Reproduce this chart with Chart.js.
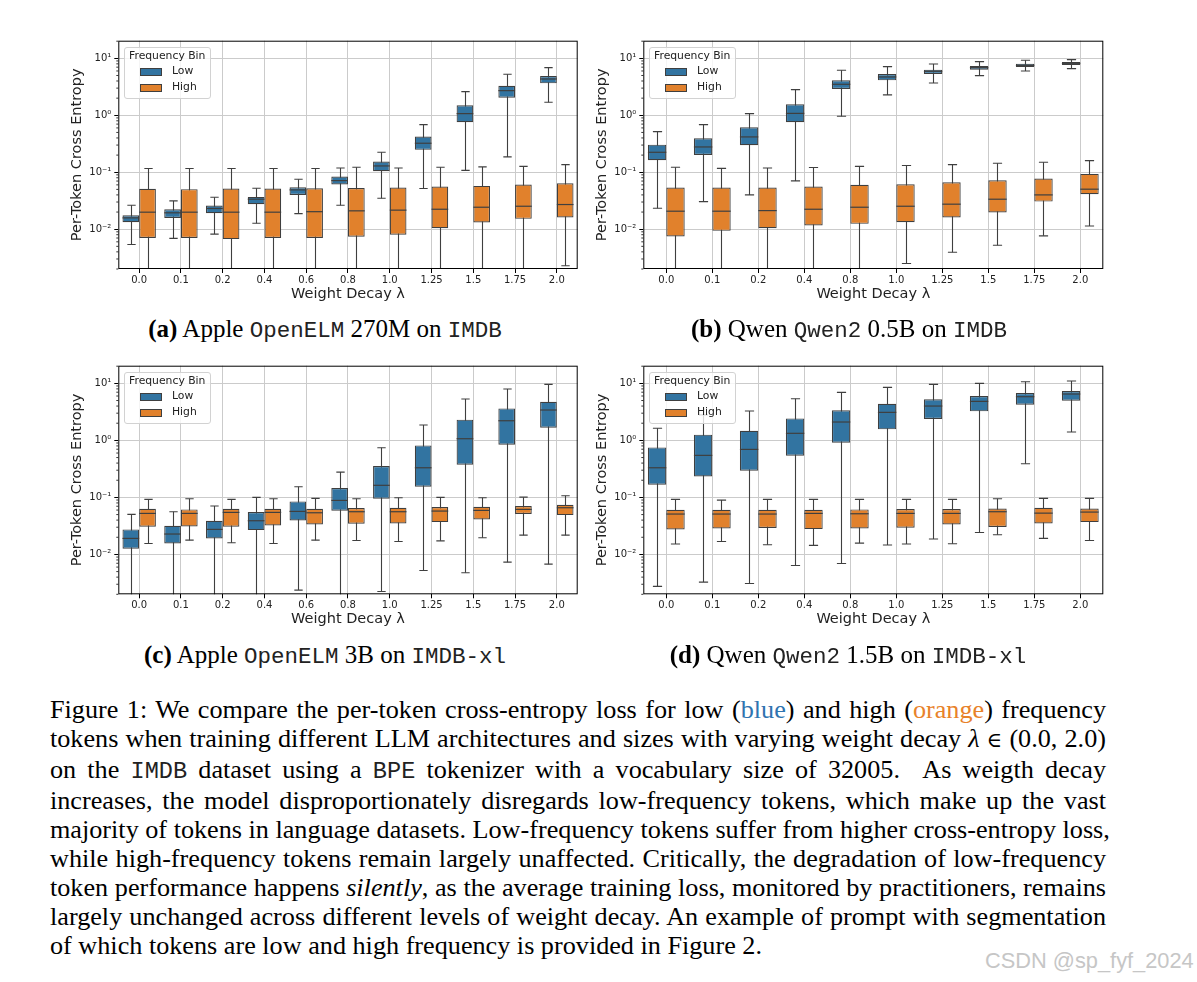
<!DOCTYPE html>
<html>
<head>
<meta charset="utf-8">
<script src="https://cdn.jsdelivr.net/npm/chart.js@4.4.1/dist/chart.umd.min.js"></script>
<style>
  body { margin: 0; background: #fff; width: 1197px; height: 982px; position: relative; overflow: hidden; font-family: "Liberation Serif", serif; color: #000; }
  canvas { position: absolute; }
  .legend { position: absolute; width: 87px; height: 52px; border: 1px solid #d2d2d2; border-radius: 3px; background: rgba(255,255,255,0.8); font-family: "DejaVu Sans", sans-serif; font-size: 10.8px; color: #222; box-sizing: border-box; }
  .legend .t { position: absolute; left: 4px; top: 1px; }
  .legend .p { position: absolute; left: 15px; width: 22px; height: 8px; border: 1px solid #3f3f3f; box-sizing: border-box; }
  .legend .l { position: absolute; left: 47px; }
  .cap { position: absolute; width: 500px; text-align: center; font-size: 25px; line-height: 28px; white-space: nowrap; }
  .tt { font-family: "Liberation Mono", monospace; font-size: 0.9em; color: #222; }
  .para { position: absolute; left: 50px; width: 1056px; font-size: 26.2px; line-height: 29px; }
  .para div { white-space: nowrap; text-align: justify; text-align-last: justify; }
  .para div.last { text-align-last: left; }
  .elem { font-family: "DejaVu Serif", serif; font-size: 0.8em; }
  .wm { position: absolute; left: 985px; top: 948px; font-family: "Liberation Sans", sans-serif; font-size: 21.8px; color: #c6c6c6; }
</style>
</head>
<body>
<canvas id="cA" width="530" height="275" style="left:60px;top:30px"></canvas>
<canvas id="cB" width="530" height="275" style="left:585px;top:30px"></canvas>
<canvas id="cC" width="530" height="275" style="left:60px;top:355px"></canvas>
<canvas id="cD" width="530" height="275" style="left:585px;top:355px"></canvas>

<div class="legend" style="left:124px;top:47px"><span class="t">Frequency Bin</span><div class="p" style="top:20px;background:#3274a1"></div><span class="l" style="top:16px">Low</span><div class="p" style="top:36px;background:#e1812c"></div><span class="l" style="top:32px">High</span></div>
<div class="legend" style="left:649px;top:47px"><span class="t">Frequency Bin</span><div class="p" style="top:20px;background:#3274a1"></div><span class="l" style="top:16px">Low</span><div class="p" style="top:36px;background:#e1812c"></div><span class="l" style="top:32px">High</span></div>
<div class="legend" style="left:124px;top:372px"><span class="t">Frequency Bin</span><div class="p" style="top:20px;background:#3274a1"></div><span class="l" style="top:16px">Low</span><div class="p" style="top:36px;background:#e1812c"></div><span class="l" style="top:32px">High</span></div>
<div class="legend" style="left:649px;top:372px"><span class="t">Frequency Bin</span><div class="p" style="top:20px;background:#3274a1"></div><span class="l" style="top:16px">Low</span><div class="p" style="top:36px;background:#e1812c"></div><span class="l" style="top:32px">High</span></div>

<div class="cap" style="left:75px;top:315px"><b>(a)</b> Apple <span class="tt">OpenELM</span> 270M on <span class="tt">IMDB</span></div>
<div class="cap" style="left:599px;top:315px"><b>(b)</b> Qwen <span class="tt">Qwen2</span> 0.5B on <span class="tt">IMDB</span></div>
<div class="cap" style="left:75px;top:641px"><b>(c)</b> Apple <span class="tt">OpenELM</span> 3B on <span class="tt">IMDB-xl</span></div>
<div class="cap" style="left:598px;top:641px"><b>(d)</b> Qwen <span class="tt">Qwen2</span> 1.5B on <span class="tt">IMDB-xl</span></div>

<div class="para" style="top:695px">
  <div>Figure 1: We compare the per-token cross-entropy loss for low (<span style="color:#2f74b0">blue</span>) and high (<span style="color:#e8822a">orange</span>) frequency</div>
  <div>tokens when training different LLM architectures and sizes with varying weight decay <i>λ</i> <span class="elem">∈</span> (0.0, 2.0)</div>
  <div>on the <span class="tt">IMDB</span> dataset using a <span class="tt">BPE</span> tokenizer with a vocabulary size of 32005. &nbsp;As weigth decay</div>
  <div>increases, the model disproportionately disregards low-frequency tokens, which make up the vast</div>
  <div>majority of tokens in language datasets. Low-frequency tokens suffer from higher cross-entropy loss,</div>
  <div>while high-frequency tokens remain largely unaffected. Critically, the degradation of low-frequency</div>
  <div>token performance happens <i>silently</i>, as the average training loss, monitored by practitioners, remains</div>
  <div>largely unchanged across different levels of weight decay. An example of prompt with segmentation</div>
  <div class="last">of which tokens are low and high frequency is provided in Figure 2.</div>
</div>
<div class="wm">CSDN @sp_fyf_2024</div>

<script>
// weight decay categories
const decay11 = ['0.0', '0.1', '0.2', '0.4', '0.6', '0.8', '1.0', '1.25', '1.5', '1.75', '2.0'];
const decay10 = ['0.0', '0.1', '0.2', '0.4', '0.8', '1.0', '1.25', '1.5', '1.75', '2.0'];
const decadeTicks = [0.01, 0.1, 1, 10];
const decadeLabels = ['10⁻²', '10⁻¹', '10⁰', '10¹'];

// each entry: [whisker low, Q1, median, Q3, whisker high]
const openElm270Low = [
  [0.0054, 0.0133, 0.0158, 0.0176, 0.0264], [0.0069, 0.0158, 0.0194, 0.0224, 0.0314],
  [0.0082, 0.0191, 0.0231, 0.026, 0.0364], [0.0127, 0.0275, 0.0336, 0.0369, 0.0524],
  [0.0188, 0.040, 0.049, 0.0546, 0.0753], [0.0264, 0.0608, 0.0714, 0.084, 0.119],
  [0.035, 0.104, 0.129, 0.154, 0.224], [0.0517, 0.247, 0.323, 0.423, 0.686],
  [0.108, 0.753, 1.07, 1.5, 2.6], [0.186, 2.04, 2.71, 3.31, 5.24], [1.69, 3.64, 4.34, 4.9, 6.86]
];
const openElm270High = [
  [0.001, 0.0070, 0.0199, 0.0511, 0.116], [0.001, 0.0070, 0.0199, 0.0505, 0.116],
  [0.001, 0.0067, 0.0199, 0.0518, 0.116], [0.001, 0.0070, 0.0199, 0.0518, 0.116],
  [0.001, 0.0070, 0.0203, 0.0525, 0.116], [0.001, 0.0074, 0.021, 0.053, 0.122],
  [0.001, 0.0080, 0.0216, 0.0538, 0.119], [0.001, 0.0104, 0.0224, 0.0561, 0.122],
  [0.001, 0.0131, 0.0243, 0.0576, 0.124], [0.001, 0.0152, 0.0253, 0.0608, 0.127],
  [0.00228, 0.016, 0.0271, 0.0641, 0.136]
];
const qwen05Low = [
  [0.0233, 0.163, 0.224, 0.305, 0.516], [0.0305, 0.201, 0.278, 0.394, 0.686],
  [0.040, 0.298, 0.417, 0.615, 1.07], [0.0705, 0.753, 1.08, 1.56, 2.82],
  [0.96, 2.9, 3.5, 4.11, 6.16], [2.28, 4.11, 4.71, 5.31, 7.14],
  [3.69, 5.31, 5.92, 6.33, 7.96], [4.97, 6.33, 6.86, 7.33, 8.75],
  [6.0, 7.05, 7.53, 8.06, 9.23], [6.59, 7.64, 8.17, 8.62, 9.48]
];
const qwen05High = [
  [0.001, 0.00743, 0.0207, 0.0538, 0.122], [0.001, 0.00935, 0.0207, 0.0538, 0.117],
  [0.001, 0.0104, 0.0212, 0.0538, 0.119], [0.001, 0.0116, 0.0224, 0.0561, 0.121],
  [0.001, 0.0124, 0.0243, 0.060, 0.127], [0.0025, 0.0133, 0.0253, 0.0616, 0.131],
  [0.00394, 0.016, 0.0275, 0.0668, 0.136], [0.00524, 0.0196, 0.0336, 0.0724, 0.144],
  [0.00764, 0.0305, 0.040, 0.0775, 0.15], [0.0114, 0.0411, 0.0504, 0.0935, 0.16]
];
const openElm3bLow = [
  [0.001, 0.0126, 0.0191, 0.0275, 0.0504], [0.001, 0.0156, 0.0228, 0.0318, 0.0561],
  [0.001, 0.0191, 0.0275, 0.039, 0.0705], [0.001, 0.0267, 0.039, 0.0553, 0.1],
  [0.00237, 0.0395, 0.0568, 0.0851, 0.154], [0.001, 0.0583, 0.0886, 0.146, 0.278],
  [0.00224, 0.0948, 0.163, 0.355, 0.743], [0.00524, 0.154, 0.331, 0.817, 1.86],
  [0.00477, 0.374, 1.07, 2.31, 5.31], [0.00733, 0.84, 2.21, 3.64, 7.96],
  [0.00676, 1.67, 3.41, 4.77, 9.6]
];
const openElm3bHigh = [
  [0.0156, 0.0305, 0.0524, 0.0633, 0.0923], [0.0178, 0.031, 0.0524, 0.0616, 0.0948],
  [0.016, 0.0305, 0.0546, 0.0633, 0.0923], [0.0156, 0.0323, 0.0546, 0.0633, 0.0948],
  [0.0178, 0.0336, 0.0538, 0.0633, 0.096], [0.0176, 0.0345, 0.0561, 0.065, 0.0948],
  [0.0169, 0.035, 0.0561, 0.0659, 0.0986], [0.0173, 0.0369, 0.0576, 0.0676, 0.1],
  [0.0196, 0.0411, 0.0592, 0.0686, 0.0986], [0.0218, 0.0511, 0.0616, 0.0705, 0.101],
  [0.0218, 0.049, 0.0659, 0.0743, 0.107]
];
const qwen15Low = [
  [0.00275, 0.167, 0.331, 0.753, 1.63], [0.00327, 0.233, 0.546, 1.26, 2.8],
  [0.0031, 0.294, 0.695, 1.48, 3.27], [0.00641, 0.538, 1.33, 2.43, 5.38],
  [0.00695, 0.91, 2.1, 3.36, 6.95], [0.0146, 1.56, 3.1, 4.4, 8.51],
  [0.0186, 2.37, 4.0, 5.24, 9.6], [0.0243, 3.23, 4.83, 6.0, 10.0],
  [0.39, 4.23, 5.83, 6.76, 10.7], [1.4, 4.97, 6.5, 7.33, 11.0], [2.43, 5.68, 6.95, 7.85, 11.1]
];
const qwen15High = [
  [0.0152, 0.0275, 0.0511, 0.0608, 0.0923], [0.0169, 0.0286, 0.0511, 0.0608, 0.0897],
  [0.0148, 0.029, 0.0511, 0.0608, 0.0923], [0.0144, 0.0278, 0.0524, 0.0608, 0.0923],
  [0.0158, 0.0286, 0.0517, 0.0616, 0.0923], [0.0152, 0.0294, 0.0524, 0.0624, 0.0923],
  [0.0154, 0.0336, 0.0524, 0.0624, 0.0923], [0.0221, 0.0302, 0.0561, 0.0641, 0.0948],
  [0.0191, 0.035, 0.053, 0.0659, 0.096], [0.0176, 0.0369, 0.0553, 0.0641, 0.096],
  [0.0207, 0.036, 0.0592, 0.0641, 0.096]
];

const lowColor = '#3274a1';
const highColor = '#e1812c';
const edgeColor = '#3f3f3f';

function strokeLine(ctx, x1, y1, x2, y2) {
  ctx.beginPath();
  ctx.moveTo(x1, y1);
  ctx.lineTo(x2, y2);
  ctx.stroke();
}

// whiskers, caps, medians, frame and minor ticks
const boxPlugin = {
  id: 'boxExtras',
  beforeDatasetsDraw(chart) {
    const {ctx, chartArea: a, scales: {y}} = chart;
    ctx.save();
    ctx.beginPath();
    ctx.rect(a.left, a.top, a.width, a.height);
    ctx.clip();
    ctx.strokeStyle = edgeColor;
    ctx.lineWidth = 1.1;
    chart.data.datasets.forEach((ds, i) => {
      chart.getDatasetMeta(i).data.forEach((bar, j) => {
        const s = ds.stats[j];
        const x = Math.round(bar.x) + 0.5;
        const cw = bar.width / 4;
        const yLo = y.getPixelForValue(s[0]);
        const yHi = y.getPixelForValue(s[4]);
        strokeLine(ctx, x, yLo, x, yHi);
        strokeLine(ctx, x - cw, yLo, x + cw, yLo);
        strokeLine(ctx, x - cw, yHi, x + cw, yHi);
      });
    });
    ctx.restore();
  },
  afterDatasetsDraw(chart) {
    const {ctx, chartArea: a, scales: {y}} = chart;
    ctx.save();
    ctx.strokeStyle = edgeColor;
    ctx.lineWidth = 1.2;
    chart.data.datasets.forEach((ds, i) => {
      chart.getDatasetMeta(i).data.forEach((bar, j) => {
        const ym = y.getPixelForValue(ds.stats[j][2]);
        strokeLine(ctx, bar.x - bar.width / 2, ym, bar.x + bar.width / 2, ym);
      });
    });
    ctx.strokeStyle = '#000';
    ctx.lineWidth = 1;
    ctx.strokeRect(a.left + 0.5, a.top + 0.5, a.width - 1, a.height - 1);
    ctx.lineWidth = 0.8;
    for (let k = -3; k <= 1; k++) {
      for (let m = 2; m <= 9; m++) {
        const v = m * Math.pow(10, k);
        if (v < y.min || v > y.max) continue;
        const py = y.getPixelForValue(v);
        strokeLine(ctx, a.left - 2, py, a.left, py);
      }
    }
    ctx.restore();
  }
};

function makePanel(id, labels, low, high, yWidth, xHeight, padRight) {
  const font = {family: 'DejaVu Sans', size: 10};
  const titleFont = {family: 'DejaVu Sans', size: 14.5};
  new Chart(document.getElementById(id), {
    type: 'bar',
    data: {
      labels: labels,
      datasets: [
        {label: 'Low', data: low.map(s => [s[1], s[3]]), stats: low, backgroundColor: lowColor},
        {label: 'High', data: high.map(s => [s[1], s[3]]), stats: high, backgroundColor: highColor}
      ]
    },
    options: {
      responsive: false,
      animation: false,
      devicePixelRatio: 1,
      layout: {padding: {top: 10.7, right: padRight, left: 0, bottom: 0}},
      datasets: {bar: {categoryPercentage: 0.8, barPercentage: 1.0, borderColor: edgeColor, borderWidth: 1.2, borderSkipped: false}},
      plugins: {legend: {display: false}, tooltip: {enabled: false}},
      scales: {
        x: {
          grid: {offset: false, color: '#cbcbcb', lineWidth: 1, tickLength: 4, tickColor: '#000'},
          border: {display: false},
          ticks: {font: font, color: '#222', padding: 1, maxRotation: 0, autoSkip: false},
          title: {display: true, text: 'Weight Decay λ', font: titleFont, color: '#222', padding: {top: 0, bottom: 2}},
          afterFit: s => { s.height = xHeight; }
        },
        y: {
          type: 'logarithmic',
          min: 0.002,
          max: 20.4,
          grid: {color: '#cbcbcb', lineWidth: 1, tickLength: 4, tickColor: '#000'},
          border: {display: false},
          afterBuildTicks: s => { s.ticks = decadeTicks.map(v => ({value: v, major: true})); },
          ticks: {font: font, color: '#222', padding: 3, callback: v => decadeLabels[decadeTicks.indexOf(v)] || ''},
          title: {display: true, text: 'Per-Token Cross Entropy', font: titleFont, color: '#222', padding: {top: 9, bottom: 0}},
          afterFit: s => { s.width = yWidth; }
        }
      }
    },
    plugins: [boxPlugin]
  });
}

makePanel('cA', decay11, openElm270Low, openElm270High, 58.3, 36, 12.3);
makePanel('cB', decay10, qwen05Low, qwen05High, 58.3, 36, 11.7);
makePanel('cC', decay11, openElm3bLow, openElm3bHigh, 58.3, 35.7, 12.3);
makePanel('cD', decay10, qwen15Low, qwen15High, 58.3, 35.7, 11.7);
</script>
</body>
</html>
